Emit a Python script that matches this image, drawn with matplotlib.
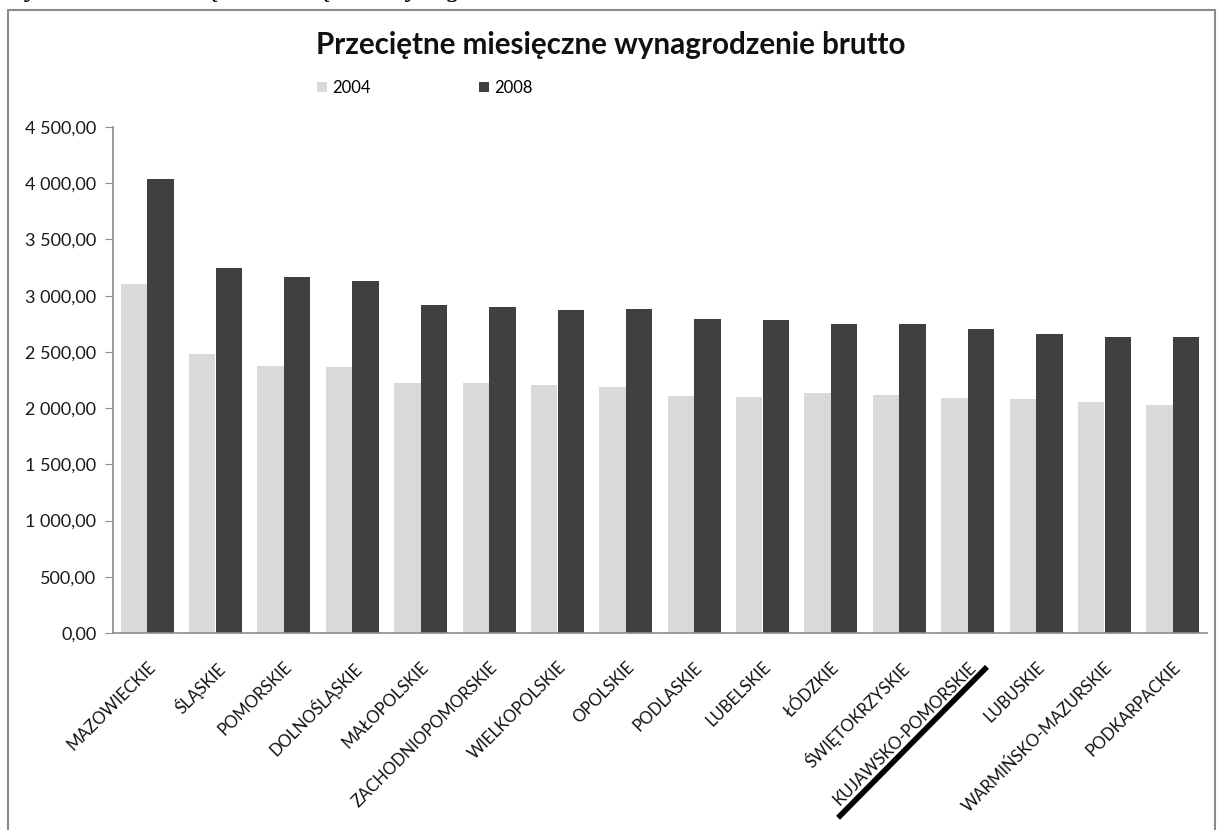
import matplotlib
matplotlib.use("Agg")
import matplotlib.pyplot as plt
import matplotlib.transforms as mtransforms
from matplotlib.patches import Patch, Rectangle
from matplotlib.lines import Line2D
from matplotlib.ticker import FuncFormatter, MultipleLocator
import numpy as np

plt.rcParams['font.family'] = ['Lato', 'DejaVu Sans']

regions = ["MAZOWIECKIE", "ŚLĄSKIE", "POMORSKIE", "DOLNOŚLĄSKIE", "MAŁOPOLSKIE",
           "ZACHODNIOPOMORSKIE", "WIELKOPOLSKIE", "OPOLSKIE", "PODLASKIE", "LUBELSKIE",
           "ŁÓDZKIE", "ŚWIĘTOKRZYSKIE", "KUJAWSKO-POMORSKIE", "LUBUSKIE",
           "WARMIŃSKO-MAZURSKIE", "PODKARPACKIE"]
w2004 = [3103, 2481, 2375, 2365, 2220, 2222, 2207, 2188, 2111, 2099,
         2134, 2120, 2090, 2081, 2054, 2025]
w2008 = [4036, 3244, 3167, 3134, 2914, 2896, 2872, 2884, 2795, 2783,
         2751, 2751, 2704, 2659, 2630, 2630]
series_labels = ["2004", "2008"]
title = "Przeciętne miesięczne wynagrodzenie brutto"
caption = "Rysunek 4. Przeciętne miesięczne wynagrodzenie brutto"
highlight = "KUJAWSKO-POMORSKIE"

light = "#d9d9d9"
dark = "#404040"

W, H = 1223, 830
fig = plt.figure(figsize=(W / 100, H / 100), dpi=100)
fig.patch.set_facecolor("white")

ax = fig.add_axes([113 / W, 1 - 633 / H, (1207 - 113) / W, (633 - 127) / H])
x = np.arange(len(regions))
bw = 0.385
ax.bar(x - 0.195, w2004, width=bw, color=light, zorder=2)
ax.bar(x + 0.195, w2008, width=bw, color=dark, zorder=2)

ax.set_xlim(-0.5, len(regions) - 0.5)
ax.set_ylim(0, 4500)
ax.yaxis.set_major_locator(MultipleLocator(500))

def fmt(v, pos):
    s = f"{v:,.2f}"
    return s.replace(",", " ").replace(".", ",")

ax.yaxis.set_major_formatter(FuncFormatter(fmt))
for side in ["top", "right"]:
    ax.spines[side].set_visible(False)
for side in ["left", "bottom"]:
    ax.spines[side].set_color("#8c8c8c")
    ax.spines[side].set_linewidth(1.2)
ax.tick_params(axis="y", length=6, color="#8c8c8c", labelsize=13, labelcolor="#1a1a1a", pad=6)
ax.tick_params(axis="x", length=0)
ax.set_xticks(x)
ax.set_xticklabels(regions, rotation=45, ha="right", va="top", rotation_mode="anchor",
                   fontsize=12, color="#111111")
offset = mtransforms.ScaledTranslation(0 / 100, -21 / 100, fig.dpi_scale_trans)
for lbl in ax.get_xticklabels():
    lbl.set_transform(lbl.get_transform() + offset)

# title
fig.text(611 / W, 1 - 45 / H, title, ha="center", va="center", fontsize=21.3,
         fontweight="bold", color="#111111")

# legend
handles = [Patch(facecolor=light, edgecolor="none"), Patch(facecolor=dark, edgecolor="none")]
fig.legend(handles, series_labels, loc="center", bbox_to_anchor=(425 / W, 1 - 88 / H),
           ncol=2, frameon=False, fontsize=12, handlelength=0.6, handleheight=0.6,
           handletextpad=0.3, columnspacing=6.5)

# chart frame
fig.patches.append(Rectangle((8 / W, -0.05), (1215 - 8) / W, 1.05 - 10 / H,
                             transform=fig.transFigure, fill=False,
                             edgecolor="#8a8a8a", linewidth=1.5))

# cut-off caption at the top
fig.text(10 / W, 1 + 4.5 / H, caption, ha="left", va="baseline", fontsize=20,
         family="Liberation Serif", style="italic", color="black")

# underline of highlighted label
fig.canvas.draw()
idx = regions.index(highlight)
lbl = ax.get_xticklabels()[idx]
bb = lbl.get_window_extent(fig.canvas.get_renderer())
x0, y0 = bb.x0 + 8, bb.y0 - 10
x1, y1 = bb.x1 + 8, bb.y1 - 8
fig.add_artist(Line2D([x0 / W, x1 / W], [y0 / H, y1 / H], transform=fig.transFigure,
                      color="black", linewidth=4, solid_capstyle="butt"))

fig.savefig("out.png", dpi=100)
